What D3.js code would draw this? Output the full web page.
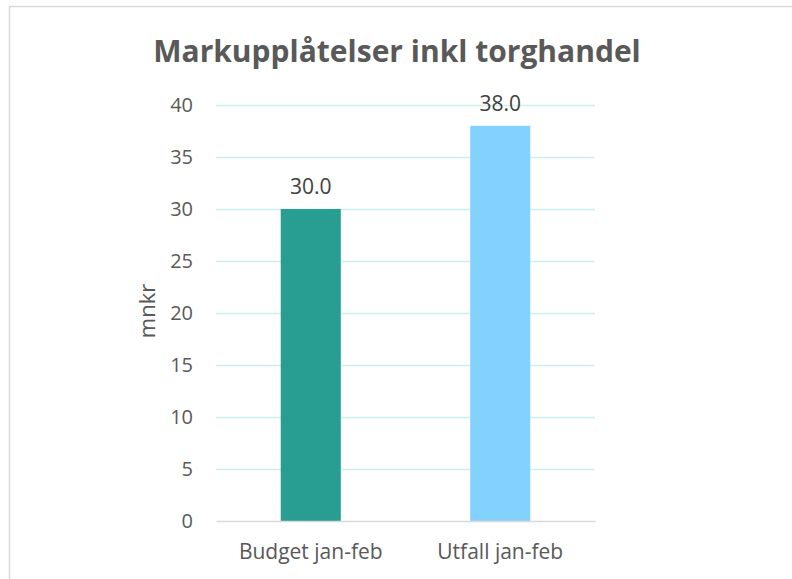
<!DOCTYPE html>
<html>
<head>
<meta charset="utf-8">
<script src="https://cdn.jsdelivr.net/npm/d3@7"></script>
<style>
  body { margin: 0; background: #fff; }
  text { font-family: "Open Sans", sans-serif; }
</style>
</head>
<body>
<div id="chart"></div>
<script>
// data
const categories = ["Budget jan-feb", "Utfall jan-feb"];
const values = [30.0, 38.0];
const barColors = ["#289E93", "#82D1FF"];
const yTicks = [0, 5, 10, 15, 20, 25, 30, 35, 40];
const titleText = "Markupplåtelser inkl torghandel";
const yLabel = "mnkr";

const width = 792;
const height = 579;
const margin = { top: 105, right: 197, bottom: 58, left: 216 };
const innerWidth = width - margin.left - margin.right;
const innerHeight = height - margin.top - margin.bottom;

const svg = d3.select("#chart")
  .append("svg")
  .attr("width", width)
  .attr("height", height);

// outer frame: only top and left edges are inside the picture
svg.append("path")
  .attr("d", `M9.5,${height} V6.5 H${width}`)
  .attr("fill", "none")
  .attr("stroke", "#D9D9D9")
  .attr("stroke-width", 1.5);

const inner = svg.append("g")
  .attr("transform", `translate(${margin.left}, ${margin.top})`);

// scales
const xScale = d3.scaleBand()
  .domain(categories)
  .range([0, innerWidth])
  .paddingInner(0.683)
  .paddingOuter(0.3415);

const yScale = d3.scaleLinear()
  .domain([0, 40])
  .range([innerHeight, 0]);

// gridlines
inner.append("g")
  .selectAll("line")
  .data(yTicks.filter(d => d > 0))
  .join("line")
  .attr("x1", 0)
  .attr("x2", innerWidth)
  .attr("y1", d => Math.round(yScale(d)) + 0.5)
  .attr("y2", d => Math.round(yScale(d)) + 0.5)
  .attr("stroke", "#CFEFEC")
  .attr("stroke-width", 1.5);

// y axis (labels only)
const yAxis = d3.axisLeft(yScale)
  .tickValues(yTicks)
  .tickSize(0)
  .tickPadding(23);
const yG = inner.append("g").call(yAxis);
yG.select(".domain").remove();
yG.selectAll("text")
  .attr("fill", "#595959")
  .style("font-size", "20px");

// bars
inner.selectAll("rect.bar")
  .data(categories)
  .join("rect")
  .attr("class", "bar")
  .attr("x", d => xScale(d))
  .attr("y", (d, i) => yScale(values[i]))
  .attr("width", xScale.bandwidth())
  .attr("height", (d, i) => yScale(0) - yScale(values[i]))
  .attr("fill", (d, i) => barColors[i]);

// x axis
const xAxis = d3.axisBottom(xScale).tickSize(0).tickPadding(23);
const xG = inner.append("g")
  .attr("transform", `translate(0, ${innerHeight})`)
  .call(xAxis);
xG.select(".domain")
  .attr("stroke", "#D9D9D9")
  .attr("stroke-width", 1.5);
xG.selectAll("text")
  .attr("fill", "#595959")
  .style("font-size", "21px");

// data labels
inner.selectAll("text.val")
  .data(categories)
  .join("text")
  .attr("class", "val")
  .attr("x", d => xScale(d) + xScale.bandwidth() / 2)
  .attr("y", (d, i) => yScale(values[i]) - 15)
  .attr("text-anchor", "middle")
  .attr("fill", "#404040")
  .style("font-size", "21px")
  .text((d, i) => values[i].toFixed(1));

// y label
svg.append("text")
  .attr("transform", "translate(155, 311) rotate(-90)")
  .attr("text-anchor", "middle")
  .attr("fill", "#595959")
  .style("font-size", "22px")
  .text(yLabel);

// title
svg.append("text")
  .attr("x", 397)
  .attr("y", 62)
  .attr("text-anchor", "middle")
  .attr("fill", "#595959")
  .attr("font-weight", "bold")
  .style("font-size", "30px")
  .text(titleText);
</script>
</body>
</html>
